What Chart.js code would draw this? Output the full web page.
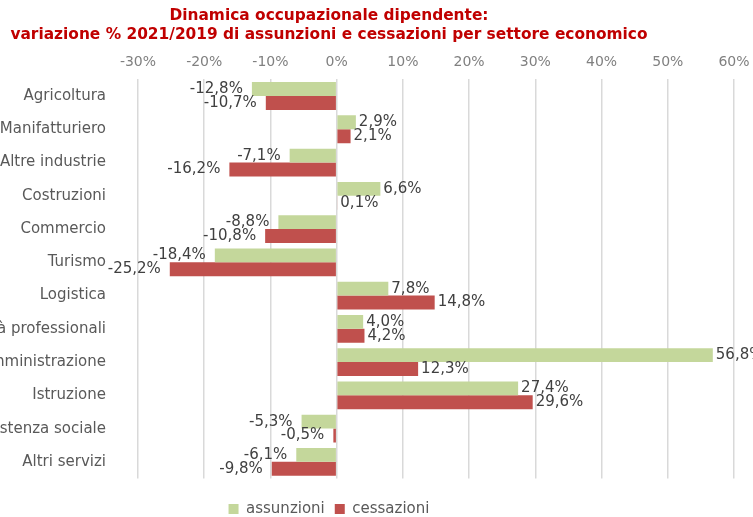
<!DOCTYPE html>
<html>
<head>
<meta charset="utf-8">
<script src="https://cdn.jsdelivr.net/npm/chart.js@4/dist/chart.umd.min.js"></script>
<style>
  html, body { margin: 0; padding: 0; background: #fff; overflow: hidden; }
  #wrap { position: relative; width: 753px; height: 517px; overflow: hidden; }
  /* the original chart is cropped on the left */
  #demo { position: absolute; left: -95px; top: 0; }
</style>
</head>
<body>
<div id="wrap"><canvas id="demo" width="848" height="517"></canvas></div>
<script>
const sectors = [
  "Agricoltura", "Manifatturiero", "Altre industrie", "Costruzioni",
  "Commercio", "Turismo", "Logistica", "Attività professionali",
  "Pubblica amministrazione", "Istruzione", "Assistenza sociale", "Altri servizi"
];
const assunzioni = [-12.8, 2.9, -7.1, 6.6, -8.8, -18.4, 7.8, 4.0, 56.8, 27.4, -5.3, -6.1];
const cessazioni = [-10.7, 2.1, -16.2, 0.1, -10.8, -25.2, 14.8, 4.2, 12.3, 29.6, -0.5, -9.8];
const xTicks = [-30, -20, -10, 0, 10, 20, 30, 40, 50, 60];

const font = "'DejaVu Sans', Verdana, sans-serif";

// value labels at the end of each bar
const barLabels = {
  id: "barLabels",
  afterDatasetsDraw(chart) {
    const ctx = chart.ctx;
    ctx.save();
    ctx.font = "15px " + font;
    ctx.fillStyle = "#404040";
    ctx.textBaseline = "middle";
    chart.data.datasets.forEach((ds, i) => {
      chart.getDatasetMeta(i).data.forEach((bar, j) => {
        const v = ds.data[j];
        const txt = v.toFixed(1).replace(".", ",") + "%";
        if (v >= 0) {
          ctx.textAlign = "left";
          ctx.fillText(txt, bar.x + 3, bar.y);
        } else {
          ctx.textAlign = "right";
          ctx.fillText(txt, bar.x - 9, bar.y);
        }
      });
    });
    ctx.restore();
  }
};

const ctx = document.getElementById("demo").getContext("2d");
new Chart(ctx, {
  type: "bar",
  data: {
    labels: sectors,
    datasets: [
      { label: "assunzioni", data: assunzioni, backgroundColor: "#c4d79b" },
      { label: "cessazioni", data: cessazioni, backgroundColor: "#c0504d" }
    ]
  },
  options: {
    indexAxis: "y",
    responsive: false,
    animation: false,
    devicePixelRatio: 1,
    categoryPercentage: 0.84,
    barPercentage: 1,
    layout: { padding: { left: 19, right: 19, top: 0, bottom: -9.5 } },
    plugins: {
      title: {
        display: true,
        text: ["Dinamica occupazionale dipendente:",
               "variazione % 2021/2019 di assunzioni e cessazioni per settore economico"],
        color: "#c00000",
        font: { family: font, size: 15.4, weight: "bold", lineHeight: 1.2 },
        padding: { top: 7, bottom: 3 }
      },
      legend: {
        position: "bottom",
        // empty title only used as a spacer above the legend items
        title: { display: true, text: " ", font: { size: 2, lineHeight: 1 }, padding: { top: 11, bottom: 0 } },
        labels: {
          color: "#595959",
          font: { family: font, size: 15 },
          boxWidth: 10,
          boxHeight: 10,
          padding: 10
        }
      },
      tooltip: { enabled: false }
    },
    scales: {
      x: {
        position: "top",
        min: -30,
        max: 60,
        afterBuildTicks: (scale) => { scale.ticks = xTicks.map(v => ({ value: v })); },
        afterFit: (scale) => {
          scale.height = 32.5;
          scale.paddingLeft = 0;
          scale.paddingRight = 0;
        },
        ticks: {
          color: "#808080",
          font: { family: font, size: 14 },
          padding: 9,
          callback: (v) => v + "%"
        },
        grid: { color: "#d9d9d9", lineWidth: 1.5, drawTicks: false },
        border: { display: false }
      },
      y: {
        afterFit: (scale) => {
          scale.width = 214;
          scale.paddingTop = 0;
          scale.paddingBottom = 0;
        },
        ticks: {
          color: "#595959",
          font: { family: font, size: 15 },
          padding: 32
        },
        grid: { display: false, drawTicks: false },
        border: { display: false }
      }
    }
  },
  plugins: [barLabels]
});
</script>
</body>
</html>
